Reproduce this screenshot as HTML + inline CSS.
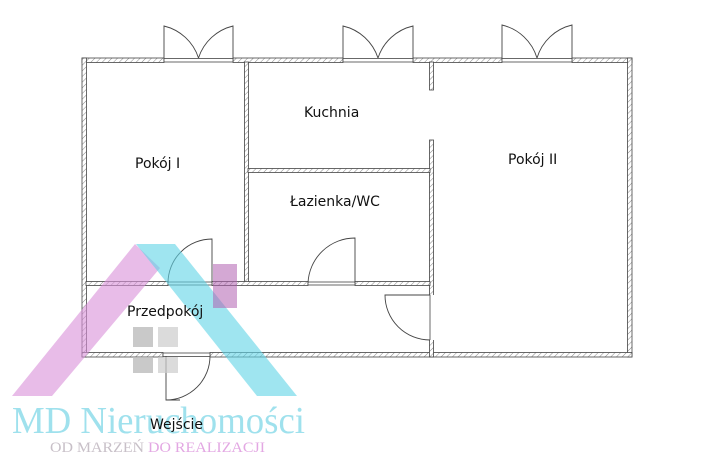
<!DOCTYPE html>
<html><head><meta charset="utf-8"><style>
html,body{margin:0;padding:0;background:#fff;width:710px;height:467px;overflow:hidden}
svg{display:block}
</style></head><body>
<svg width="710" height="467" viewBox="0 0 710 467" xmlns="http://www.w3.org/2000/svg">
<defs>
<pattern id="h" width="4" height="4" patternUnits="userSpaceOnUse" patternTransform="rotate(45)">
<rect width="4" height="4" fill="#fff"/><line x1="0" y1="0" x2="0" y2="4" stroke="#888" stroke-width="1"/>
</pattern>
</defs>
<g fill="url(#h)" stroke="#444" stroke-width="0.8">
<rect x="82" y="58" width="82" height="4.5"/>
<rect x="233" y="58" width="110" height="4.5"/>
<rect x="413" y="58" width="89" height="4.5"/>
<rect x="572" y="58" width="60" height="4.5"/>
<rect x="164" y="58.5" width="69" height="3.5" fill="#fff"/>
<rect x="343" y="58.5" width="70" height="3.5" fill="#fff"/>
<rect x="502" y="58.5" width="70" height="3.5" fill="#fff"/>
<rect x="82" y="58" width="4.5" height="299"/>
<rect x="627.5" y="58" width="4.5" height="299"/>
<rect x="82" y="352.5" width="81" height="4.5"/>
<rect x="210" y="352.5" width="422" height="4.5"/>
<rect x="163" y="353" width="47" height="3.5" fill="#fff"/>
<rect x="244.5" y="62" width="4" height="221"/>
<rect x="429.5" y="62" width="4" height="28"/>
<rect x="429.5" y="140" width="4" height="217"/>
<rect x="248" y="168.5" width="182" height="4"/>
<rect x="86" y="281.5" width="82" height="4"/>
<rect x="212" y="281.5" width="96" height="4"/>
<rect x="355" y="281.5" width="75" height="4"/>
<rect x="168" y="282" width="44" height="3" fill="#fff"/>
<rect x="308" y="282" width="47" height="3" fill="#fff"/>
</g>
<rect x="429" y="295" width="5" height="45" fill="#fff"/>
<line x1="430" y1="295" x2="430" y2="340" stroke="#444" stroke-width="0.8"/>
<g fill="none" stroke="#444" stroke-width="0.9">
<path d="M164 58 V26 A48 48 0 0 1 198.5 58"/>
<path d="M233 58 V26 A48 48 0 0 0 198.5 58"/>
<path d="M343 58 V26 A48 48 0 0 1 378 58"/>
<path d="M413 58 V26 A48 48 0 0 0 378 58"/>
<path d="M502 58 V25 A48 48 0 0 1 537 58"/>
<path d="M572 58 V25 A48 48 0 0 0 537 58"/>
<path d="M212 283 V239 A44 44 0 0 0 168 283"/>
<path d="M355 283 V238 A47 47 0 0 0 308 283"/>
<path d="M430 295 H385 A45 45 0 0 0 430 340"/>
<path d="M166 356 V400 H180 M166 400 A44 44 0 0 0 210 356"/>
</g>
<polygon points="12,396 135,244 160,268 52,396" fill="#d890d8" opacity="0.6"/>
<polygon points="136,244 175,244 297,396 257,396" fill="#5fd3e6" opacity="0.6"/>
<rect x="213" y="264" width="24" height="44" fill="#b060b0" opacity="0.55"/>
<rect x="133" y="327" width="20" height="20" fill="#bbb" opacity="0.8"/>
<rect x="158" y="327" width="20" height="20" fill="#ccc" opacity="0.7"/>
<rect x="133" y="357" width="20" height="16" fill="#bbb" opacity="0.8"/>
<rect x="158" y="357" width="20" height="16" fill="#ccc" opacity="0.7"/>
<text x="12" y="433" font-family="Liberation Serif, serif" font-size="38" fill="#8fdcea" opacity="0.85" textLength="293" lengthAdjust="spacingAndGlyphs">MD Nieruchomości</text>
<text x="50" y="452" font-family="Liberation Serif, serif" font-size="15" fill="#c8c0c8" textLength="215" lengthAdjust="spacingAndGlyphs">OD MARZEŃ <tspan fill="#e3a8e3">DO REALIZACJI</tspan></text>
<g font-family="DejaVu Sans, Liberation Sans, sans-serif" font-size="14" fill="#111">
<text x="135" y="168">Pokój I</text>
<text x="304" y="117">Kuchnia</text>
<text x="290" y="206">Łazienka/WC</text>
<text x="508" y="164">Pokój II</text>
<text x="127" y="316">Przedpokój</text>
<text x="150" y="429">Wejście</text>
</g>
</svg>
</body></html>
